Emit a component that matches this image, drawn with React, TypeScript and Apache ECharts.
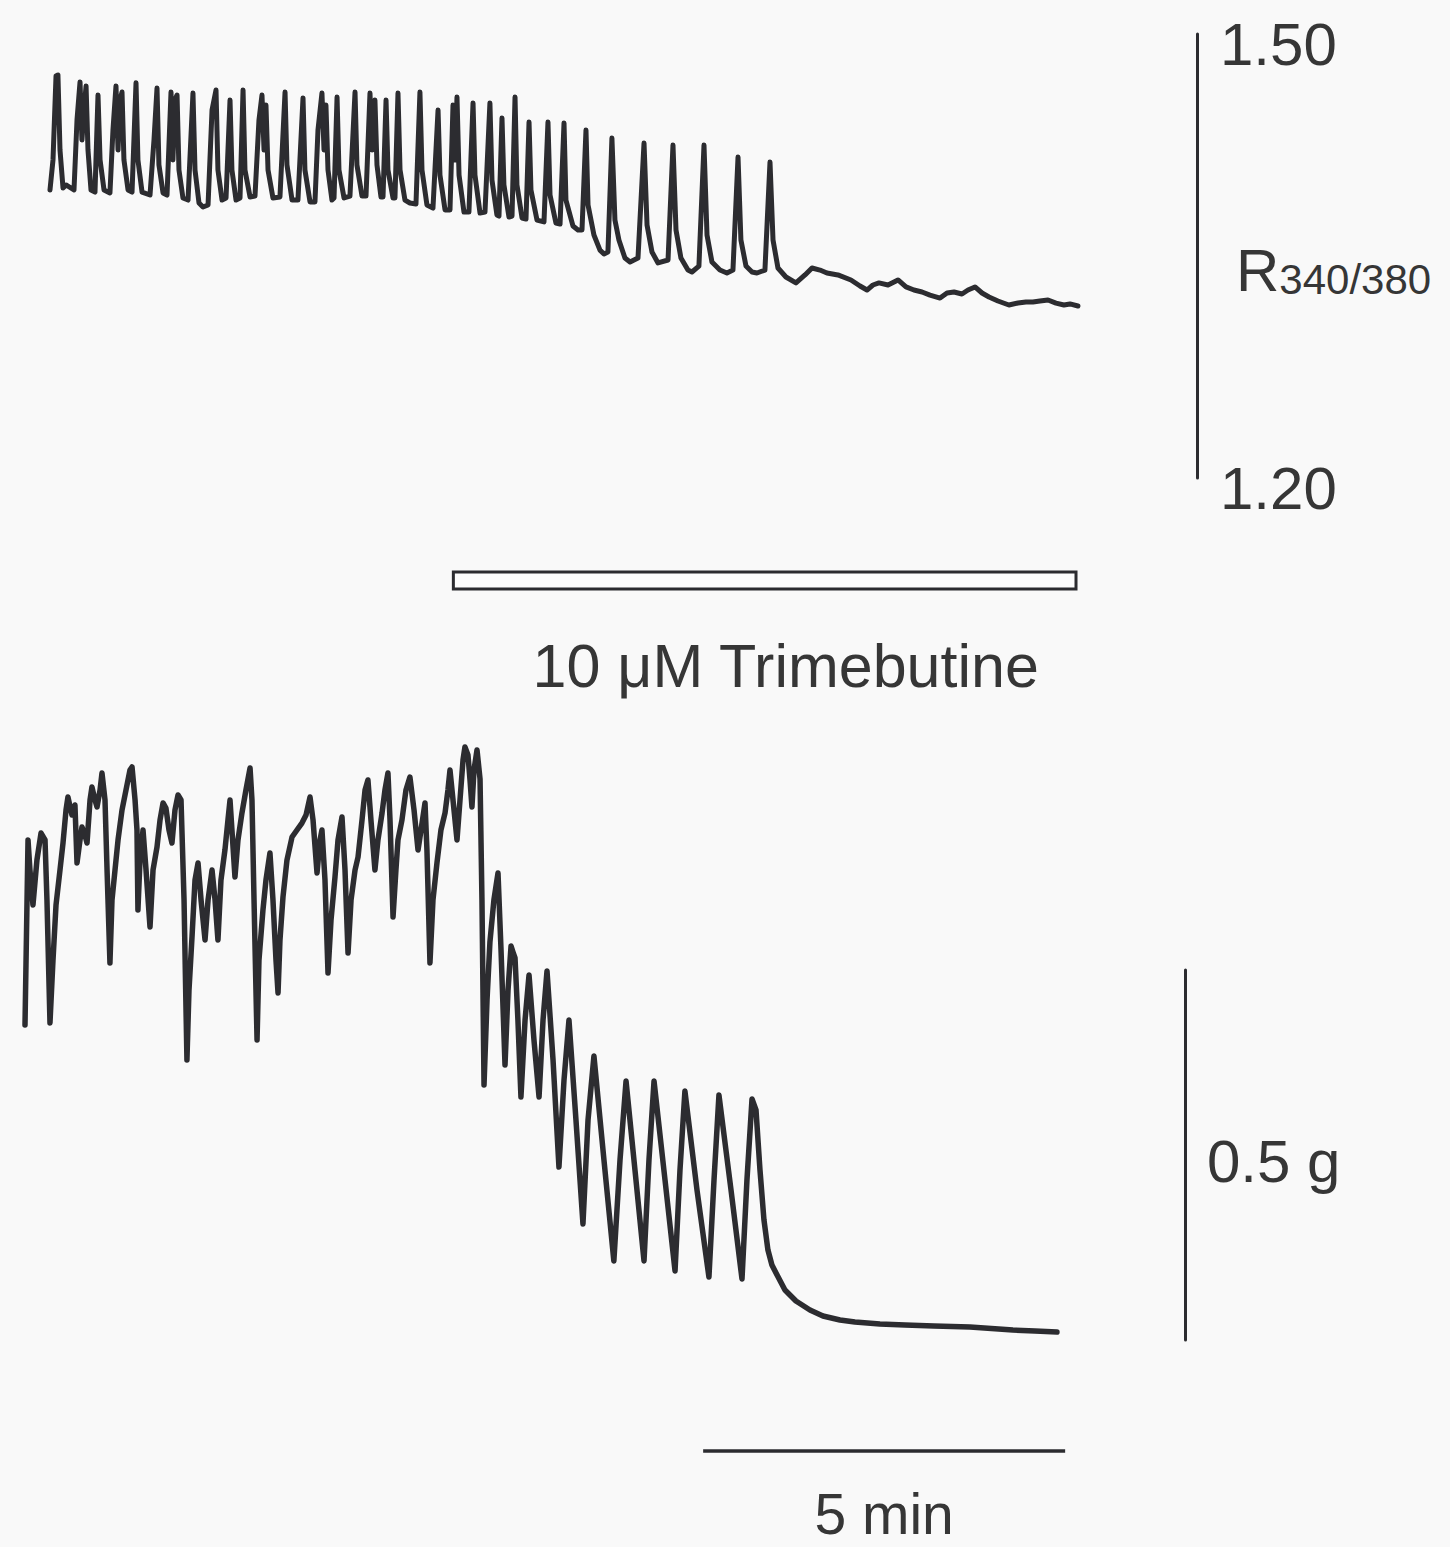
import React, { useEffect, useRef } from "react";
import * as echarts from "echarts";

// Horizontal scale shared by both recordings: 5 min = 362 px.
const PX_PER_SEC = 72.4 / 60;

// Fura-2 ratio recording: [time (s), R340/380]
const TOP_TRACE: [number, number][] = [
  [20.7, 1.3946], [23.2, 1.4149], [25.7, 1.4716], [27.3, 1.4723], [29.0, 1.4216], [31.5, 1.3959],
  [34.0, 1.398], [40.6, 1.3946], [43.1, 1.4419], [45.6, 1.4676], [47.2, 1.4284], [48.9, 1.4486],
  [50.6, 1.4649], [52.2, 1.4216], [54.7, 1.3946], [58.0, 1.3932], [60.5, 1.4588], [62.2, 1.4149],
  [65.5, 1.3946], [70.4, 1.3926], [72.9, 1.4351], [75.4, 1.4649], [77.1, 1.4216], [78.7, 1.4554],
  [80.4, 1.4608], [82.0, 1.4149], [85.4, 1.3946], [88.7, 1.3932], [92.0, 1.467], [93.6, 1.4149],
  [97.0, 1.3932], [103.6, 1.3912], [106.9, 1.4284], [109.4, 1.4635], [111.0, 1.4115], [114.4, 1.3926],
  [117.7, 1.3912], [121.0, 1.4608], [122.6, 1.4149], [124.3, 1.4554], [126.0, 1.4588], [127.6, 1.4081],
  [130.9, 1.3892], [135.1, 1.3878], [139.2, 1.4601], [140.9, 1.4081], [144.2, 1.3858], [147.5, 1.3831],
  [151.7, 1.3845], [155.0, 1.4486], [158.3, 1.4622], [159.9, 1.4081], [163.3, 1.3878], [166.6, 1.3892],
  [169.9, 1.4554], [171.5, 1.4081], [174.9, 1.3878], [178.2, 1.3892], [180.7, 1.4622], [182.3, 1.4081],
  [186.5, 1.3899], [190.6, 1.3905], [193.9, 1.4419], [196.4, 1.4588], [198.1, 1.4216], [199.7, 1.452],
  [201.4, 1.4081], [205.5, 1.3892], [211.3, 1.3899], [215.5, 1.4608], [217.1, 1.4115], [221.3, 1.3878],
  [226.2, 1.3878], [230.4, 1.4568], [232.0, 1.4081], [236.2, 1.3865], [240.3, 1.3865], [242.8, 1.4351],
  [246.1, 1.4601], [247.8, 1.4216], [249.4, 1.452], [251.1, 1.4081], [254.4, 1.3878], [256.1, 1.3892],
  [258.6, 1.4574], [260.2, 1.4081], [264.4, 1.3892], [269.3, 1.3905], [273.5, 1.4608], [275.1, 1.4115],
  [279.3, 1.3905], [282.6, 1.3905], [285.9, 1.4601], [287.6, 1.4216], [290.0, 1.4554], [291.7, 1.4115],
  [295.0, 1.3899], [296.7, 1.3899], [299.2, 1.4554], [300.8, 1.4081], [305.0, 1.3892], [306.6, 1.3892],
  [309.1, 1.4601], [310.8, 1.4081], [314.9, 1.3878], [319.0, 1.3858], [324.0, 1.3851], [327.3, 1.4608],
  [329.0, 1.4081], [333.1, 1.3845], [338.1, 1.3824], [342.3, 1.4486], [343.9, 1.4047], [348.1, 1.3811],
  [352.2, 1.3811], [354.7, 1.452], [356.3, 1.4149], [358.0, 1.4574], [359.7, 1.4047], [363.8, 1.3797],
  [367.9, 1.3797], [371.3, 1.4534], [372.9, 1.4047], [377.1, 1.379], [381.2, 1.3797], [385.3, 1.4534],
  [387.0, 1.4013], [391.1, 1.3777], [392.8, 1.377], [395.3, 1.4432], [396.9, 1.398], [401.1, 1.3763],
  [403.6, 1.377], [406.1, 1.4574], [407.7, 1.398], [411.9, 1.3757], [415.2, 1.375], [417.7, 1.4405],
  [419.3, 1.3946], [424.3, 1.3743], [430.1, 1.373], [433.4, 1.4405], [435.1, 1.3912], [440.0, 1.3723],
  [443.4, 1.3716], [446.7, 1.4399], [448.3, 1.3878], [454.1, 1.3703], [458.3, 1.3676], [461.6, 1.3676],
  [464.9, 1.4351], [466.6, 1.3845], [471.5, 1.3642], [476.5, 1.354], [479.8, 1.3514], [483.1, 1.3527],
  [486.4, 1.4297], [488.9, 1.3743], [492.2, 1.3608], [497.2, 1.3486], [501.4, 1.3459], [508.0, 1.3486],
  [513.0, 1.4263], [515.5, 1.3709], [519.6, 1.3527], [524.6, 1.3453], [532.9, 1.3473], [537.0, 1.425],
  [539.5, 1.3676], [543.6, 1.3486], [549.4, 1.3405], [552.7, 1.3392], [558.5, 1.3432], [562.7, 1.425],
  [565.2, 1.3642], [569.3, 1.3459], [575.9, 1.3405], [581.7, 1.3385], [586.7, 1.3405], [590.9, 1.4169],
  [593.3, 1.3608], [597.5, 1.3432], [602.5, 1.3392], [606.6, 1.3385], [613.2, 1.3405], [617.4, 1.4135],
  [619.9, 1.3608], [624.0, 1.3419], [630.6, 1.3358], [638.9, 1.3318], [646.4, 1.3372], [652.2, 1.3419],
  [658.8, 1.3405], [664.6, 1.3385], [673.7, 1.3372], [684.5, 1.3338], [692.0, 1.3297], [697.8, 1.327],
  [702.7, 1.3304], [707.7, 1.3318], [715.2, 1.3304], [723.5, 1.3338], [730.1, 1.3291], [736.7, 1.327],
  [743.4, 1.3257], [750.0, 1.3236], [758.3, 1.3216], [764.1, 1.325], [769.9, 1.3257], [776.5, 1.3243],
  [781.5, 1.327], [787.3, 1.3291], [793.1, 1.325], [798.9, 1.3223], [806.3, 1.3196], [815.4, 1.3169],
  [822.9, 1.3182], [829.5, 1.3189], [835.3, 1.3189], [841.1, 1.3196], [847.8, 1.3203], [854.4, 1.3182],
  [861.0, 1.3169], [866.0, 1.3176], [872.6, 1.3162],
];

// Isometric tension recording: [time (s), tension (g)]
const BOTTOM_TRACE: [number, number][] = [
  [0, 0.4257], [2.5, 0.6757], [4.1, 0.6351], [6.6, 0.5878], [9.9, 0.6486], [13.3, 0.6851],
  [16.6, 0.6757], [18.2, 0.5946], [20.7, 0.4284], [23.2, 0.5135], [25.7, 0.5878], [29.0, 0.6351],
  [31.5, 0.6716], [34.0, 0.7162], [35.6, 0.7338], [38.9, 0.7095], [41.4, 0.723], [43.1, 0.6446],
  [45.6, 0.6757], [47.2, 0.6932], [49.7, 0.6824], [51.4, 0.6716], [53.9, 0.7297], [55.5, 0.7473],
  [58.0, 0.7297], [59.7, 0.7203], [62.2, 0.7432], [63.8, 0.7662], [66.3, 0.7297], [68.0, 0.6351],
  [70.4, 0.5095], [72.1, 0.5946], [74.6, 0.6351], [77.1, 0.6757], [80.4, 0.7162], [83.7, 0.7432],
  [87.0, 0.7703], [88.7, 0.7743], [91.2, 0.7297], [92.8, 0.6892], [93.6, 0.5811], [95.3, 0.6486],
  [97.8, 0.6892], [100.3, 0.6351], [103.6, 0.5581], [106.1, 0.6351], [109.4, 0.6662], [111.9, 0.7027],
  [114.4, 0.7257], [116.8, 0.7189], [119.3, 0.6892], [121.8, 0.6716], [124.3, 0.7162], [126.8, 0.7365],
  [129.3, 0.7297], [131.8, 0.5946], [134.2, 0.3784], [135.9, 0.473], [138.4, 0.5446], [140.9, 0.6216],
  [143.4, 0.6446], [145.9, 0.5946], [149.2, 0.5405], [151.7, 0.5946], [155.0, 0.6351], [157.5, 0.5946],
  [159.9, 0.5405], [162.4, 0.6216], [165.7, 0.6622], [168.2, 0.7027], [169.9, 0.7297], [171.5, 0.6892],
  [174.0, 0.6257], [176.5, 0.6757], [179.8, 0.7122], [183.1, 0.7432], [186.5, 0.773], [188.1, 0.7297],
  [189.8, 0.5946], [192.3, 0.4054], [193.9, 0.5135], [197.2, 0.5811], [199.7, 0.6216], [203.0, 0.6581],
  [205.5, 0.5946], [208.0, 0.5135], [209.7, 0.4689], [211.3, 0.5405], [213.8, 0.5986], [217.1, 0.6486],
  [221.3, 0.6797], [225.4, 0.6892], [229.5, 0.6986], [232.9, 0.7095], [236.2, 0.7338], [238.7, 0.7027],
  [242.0, 0.6311], [244.5, 0.6757], [246.1, 0.6892], [248.6, 0.6216], [251.1, 0.4959], [253.6, 0.5676],
  [256.9, 0.6257], [259.4, 0.6757], [262.7, 0.7068], [265.2, 0.6351], [267.7, 0.523], [270.2, 0.5946],
  [273.5, 0.6351], [276.0, 0.6527], [279.3, 0.7027], [281.8, 0.7432], [284.2, 0.7568], [286.7, 0.7027],
  [290.0, 0.6351], [292.5, 0.6757], [295.9, 0.7122], [298.3, 0.7432], [300.8, 0.7662], [302.5, 0.7027],
  [305.0, 0.5716], [307.4, 0.6351], [309.1, 0.6757], [312.4, 0.7027], [315.7, 0.7432], [319.0, 0.7608],
  [322.4, 0.7162], [325.7, 0.6622], [328.2, 0.6892], [331.5, 0.7257], [333.1, 0.6622], [335.6, 0.5095],
  [338.1, 0.5946], [341.4, 0.6446], [344.7, 0.6892], [348.1, 0.7122], [350.5, 0.7432], [352.2, 0.7703],
  [354.7, 0.7297], [358.0, 0.6757], [360.5, 0.7297], [363.0, 0.7838], [364.6, 0.8014], [367.1, 0.7905],
  [368.8, 0.7568], [370.4, 0.7203], [372.1, 0.7703], [374.6, 0.7973], [377.1, 0.7581], [378.7, 0.5946],
  [380.4, 0.3446], [382.9, 0.4595], [385.3, 0.5378], [388.6, 0.5946], [392.0, 0.6311], [394.5, 0.527],
  [397.8, 0.3716], [400.3, 0.473], [402.8, 0.5324], [404.4, 0.5243], [406.1, 0.5162], [408.5, 0.4324],
  [411.0, 0.3284], [414.4, 0.4324], [417.7, 0.4932], [421.8, 0.4054], [426.0, 0.3284], [429.3, 0.4324],
  [432.6, 0.4986], [437.6, 0.3784], [442.5, 0.2338], [446.7, 0.3514], [450.8, 0.4324], [456.6, 0.2973],
  [462.4, 0.1568], [466.6, 0.2973], [471.5, 0.3838], [479.8, 0.2432], [488.0, 0.1068], [493.1, 0.2432],
  [498.1, 0.35], [505.5, 0.2297], [513.0, 0.1068], [517.1, 0.2432], [521.3, 0.35], [530.4, 0.2162],
  [538.7, 0.0932], [542.8, 0.2297], [546.9, 0.3365], [556.9, 0.2027], [566.8, 0.0851], [571.0, 0.2162],
  [575.1, 0.3311], [585.1, 0.2027], [594.2, 0.0824], [598.3, 0.2162], [602.5, 0.3257], [605.8, 0.3108],
  [609.1, 0.2297], [612.4, 0.1622], [615.7, 0.1216], [619.0, 0.1014], [622.4, 0.0905], [629.8, 0.0676],
  [638.9, 0.0527], [650.5, 0.0405], [661.3, 0.0324], [675.4, 0.027], [687.8, 0.0243], [708.5, 0.0216],
  [729.3, 0.0203], [753.3, 0.0189], [783.1, 0.0176], [818.7, 0.0135], [837.0, 0.0122], [855.2, 0.0108],
];

// Calibration bars
const RATIO_RANGE = [1.2, 1.5];
const TENSION_RANGE = [0, 0.5];
const TENSION_LABEL = "0.5 g";

// Drug application (s)
const DRUG_ON_S = 355;
const DRUG_OFF_S = 871;
const DRUG_LABEL = "10 \u03bcM Trimebutine";

// Time calibration bar (s)
const TIME_BAR_START_S = 562;
const TIME_BAR_LEN_S = 300;
const TIME_BAR_LABEL = "5 min";

const INK = "#2c2c30";
const TEXT = "#363636";
const FONT = "Liberation Sans";
const BG = "#f9f9f9";

const TOP_GRID = { left: 25, top: 34, width: 1172, height: 444 };
const BOTTOM_GRID = { left: 25, top: 970, width: 1160, height: 370 };

export default function App() {
  const ref = useRef<HTMLDivElement>(null);

  useEffect(() => {
    if (!ref.current) return;
    const chart = echarts.init(ref.current, null, { renderer: "svg" });

    const traceLine = (width: number) => ({
      color: INK,
      width,
      join: "round" as const,
      cap: "round" as const,
    });

    const bigText = { fontSize: 60, fontFamily: FONT, color: TEXT };

    chart.setOption({
      animation: false,
      backgroundColor: BG,
      grid: [
        { ...TOP_GRID, containLabel: false, outerBoundsMode: "none" },
        { ...BOTTOM_GRID, containLabel: false, outerBoundsMode: "none" },
      ],
      xAxis: [
        { type: "value", gridIndex: 0, min: 0, max: TOP_GRID.width / PX_PER_SEC, show: false },
        { type: "value", gridIndex: 1, min: 0, max: BOTTOM_GRID.width / PX_PER_SEC, show: false },
      ],
      yAxis: [
        {
          type: "value",
          gridIndex: 0,
          position: "right",
          min: RATIO_RANGE[0],
          max: RATIO_RANGE[1],
          interval: 0.3,
          axisLine: { show: true, onZero: false, lineStyle: { color: INK, width: 3 } },
          axisTick: { show: false },
          splitLine: { show: false },
          axisLabel: {
            show: true,
            margin: 23,
            formatter: (v: number) => `{v|${v.toFixed(2)}}`,
            rich: { v: { ...bigText, padding: [20, 0, 0, 0] } },
          },
          name: "{r|R}{s|340/380}",
          nameLocation: "middle",
          nameRotate: 0,
          nameGap: 39,
          nameMoveOverlap: false,
          nameTextStyle: {
            padding: [28, 0, 0, 0],
            rich: {
              r: { ...bigText, lineHeight: 60, verticalAlign: "bottom" },
              s: { fontSize: 42, fontFamily: FONT, color: TEXT, lineHeight: 42, verticalAlign: "bottom" },
            },
          },
        },
        {
          type: "value",
          gridIndex: 1,
          position: "right",
          min: TENSION_RANGE[0],
          max: TENSION_RANGE[1],
          interval: 0.5,
          axisLine: { show: true, onZero: false, lineStyle: { color: INK, width: 3 } },
          axisTick: { show: false },
          splitLine: { show: false },
          axisLabel: { show: false },
          name: `{g|${TENSION_LABEL}}`,
          nameLocation: "middle",
          nameRotate: 0,
          nameGap: 22,
          nameMoveOverlap: false,
          nameTextStyle: {
            rich: { g: { ...bigText, padding: [13, 0, 0, 0] } },
          },
        },
      ],
      series: [
        {
          type: "line",
          xAxisIndex: 0,
          yAxisIndex: 0,
          data: TOP_TRACE,
          showSymbol: false,
          symbol: "none",
          clip: false,
          silent: true,
          lineStyle: traceLine(5),
        },
        {
          type: "line",
          xAxisIndex: 1,
          yAxisIndex: 1,
          data: BOTTOM_TRACE,
          showSymbol: false,
          symbol: "none",
          clip: false,
          silent: true,
          lineStyle: traceLine(5.5),
        },
      ],
    });

    // Annotation bars placed on the recordings' own time scale
    const drugX1 = chart.convertToPixel({ gridIndex: 0 }, [DRUG_ON_S, RATIO_RANGE[0]])[0];
    const drugX2 = chart.convertToPixel({ gridIndex: 0 }, [DRUG_OFF_S, RATIO_RANGE[0]])[0];
    const timeX1 = chart.convertToPixel({ gridIndex: 1 }, [TIME_BAR_START_S, 0])[0];
    const timeX2 = chart.convertToPixel({ gridIndex: 1 }, [TIME_BAR_START_S + TIME_BAR_LEN_S, 0])[0];

    const textStyle = (text: string, x: number, y: number, size: number) => ({
      text,
      x,
      y,
      fill: TEXT,
      fontFamily: FONT,
      fontSize: size,
      align: "center",
      verticalAlign: "middle",
      textAlign: "center",
      textVerticalAlign: "middle",
    });

    chart.setOption({
      graphic: [
        {
          type: "rect",
          silent: true,
          shape: { x: drugX1, y: 572, width: drugX2 - drugX1, height: 17 },
          style: { fill: "#fdfdfd", stroke: INK, lineWidth: 3 },
        },
        {
          type: "text",
          silent: true,
          style: textStyle(DRUG_LABEL, (drugX1 + drugX2) / 2 + 21, 666, 61),
        },
        {
          type: "line",
          silent: true,
          shape: { x1: timeX1, y1: 1451, x2: timeX2, y2: 1451 },
          style: { stroke: INK, lineWidth: 3.5 },
        },
        {
          type: "text",
          silent: true,
          style: textStyle(TIME_BAR_LABEL, (timeX1 + timeX2) / 2, 1514, 57),
        },
      ],
    });

    return () => chart.dispose();
  }, []);

  return (
    <div
      ref={ref}
      style={{ position: "absolute", left: 0, top: 0, width: 1450, height: 1547 }}
    />
  );
}
